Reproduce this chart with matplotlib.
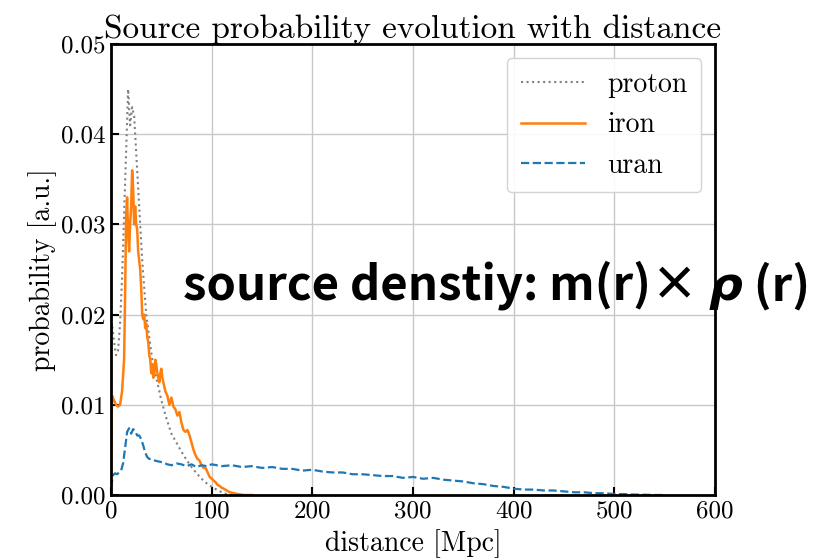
import matplotlib
matplotlib.use("Agg")
import matplotlib.pyplot as plt

# ---------------- data ----------------
proton_d = [0, 1, 3, 5, 7, 9, 11, 13, 15, 17, 19, 21, 23, 25, 27, 29, 31, 33, 35, 38,
            41, 44, 47, 50, 55, 60, 65, 70, 75, 80, 85, 90, 95, 100, 105, 110, 115, 120]
proton_p = [0.0175, 0.019, 0.017, 0.0155, 0.016, 0.019, 0.024, 0.031, 0.038, 0.045, 0.041,
            0.043, 0.042, 0.038, 0.034, 0.030, 0.026, 0.023, 0.020, 0.0175, 0.015, 0.0135,
            0.012, 0.0105, 0.0085, 0.0068, 0.0058, 0.0048, 0.0039, 0.0031, 0.0024, 0.0018,
            0.0013, 0.0009, 0.0006, 0.0003, 0.0001, 0.0]

iron_d = [0, 1, 3, 5, 7, 9, 11, 13, 14, 15, 16, 17, 18, 19, 20, 21, 22, 23, 24, 25, 26,
          27, 28, 29, 30, 31, 32, 33, 34, 35, 36, 37, 38, 39, 40, 41, 42, 43, 44, 45, 46,
          47, 48, 49, 50, 51, 52, 54, 56, 58, 60, 62, 64, 66, 68, 70, 72, 74, 76, 78, 80,
          82, 84, 86, 88, 90, 92, 94, 96, 98, 100, 102, 104, 106, 108, 110, 112, 115, 118,
          122, 126, 132, 140]
iron_p = [0.0025, 0.011, 0.0105, 0.0100, 0.0098, 0.0100, 0.0115, 0.015, 0.022, 0.031,
          0.033, 0.029, 0.027, 0.030, 0.032, 0.036, 0.034, 0.030, 0.032, 0.030, 0.0295,
          0.027, 0.026, 0.025, 0.023, 0.020, 0.0195, 0.020, 0.0185, 0.019, 0.0175, 0.017,
          0.0155, 0.015, 0.0135, 0.0145, 0.0130, 0.0135, 0.0150, 0.0145, 0.0135, 0.0130,
          0.0125, 0.0135, 0.0140, 0.0130, 0.0125, 0.0115, 0.0110, 0.0100, 0.0108, 0.0098,
          0.0095, 0.0088, 0.0092, 0.0080, 0.0072, 0.0070, 0.0072, 0.0066, 0.0058, 0.0050,
          0.0044, 0.0040, 0.0038, 0.0033, 0.0030, 0.0030, 0.0025, 0.0020, 0.0018, 0.0016,
          0.0014, 0.0011, 0.0010, 0.0008, 0.0007, 0.0005, 0.0003, 0.0002, 0.0001, 0.0, 0.0]

uran_d = [0, 2, 4, 6, 8, 10, 12, 14, 16, 18, 20, 22, 24, 26, 28, 30, 32, 34, 36, 38, 40,
          44, 48, 52, 56, 60, 65, 70, 75, 80, 85, 90, 95, 100, 110, 120, 130, 140, 150,
          160, 170, 180, 190, 200, 210, 220, 230, 240, 250, 260, 270, 280, 290, 300, 310,
          320, 330, 340, 350, 360, 370, 380, 390, 400, 410, 420, 430, 440, 450, 460, 470,
          480, 490, 500, 510, 520, 530, 540, 550]
uran_p = [0.0008, 0.0022, 0.0024, 0.0023, 0.0025, 0.0027, 0.0035, 0.0052, 0.0070, 0.0074,
          0.0068, 0.0073, 0.0071, 0.0066, 0.0066, 0.0062, 0.0055, 0.0047, 0.0042, 0.0040,
          0.0040, 0.0038, 0.0037, 0.0036, 0.0034, 0.0033, 0.0035, 0.0034, 0.0032, 0.0034,
          0.0031, 0.0033, 0.0032, 0.0034, 0.0032, 0.0033, 0.0031, 0.0032, 0.0030, 0.0031,
          0.0029, 0.0029, 0.0027, 0.0028, 0.0026, 0.0025, 0.0025, 0.0023, 0.0023, 0.0022,
          0.0021, 0.0021, 0.0019, 0.0020, 0.0018, 0.0019, 0.0017, 0.0016, 0.0015, 0.0013,
          0.0012, 0.0010, 0.0009, 0.0007, 0.0006, 0.0006, 0.0005, 0.0005, 0.0004, 0.0003,
          0.0003, 0.0002, 0.0002, 0.0001, 0.0001, 0.00005, 0.00003, 0.0, 0.0]

x_ticks = [0, 100, 200, 300, 400, 500, 600]
y_ticks = [0.00, 0.01, 0.02, 0.03, 0.04, 0.05]

# ---------------- style ----------------
plt.rcParams['font.family'] = 'serif'
plt.rcParams['font.serif'] = ['cmr10']
plt.rcParams['mathtext.fontset'] = 'cm'
plt.rcParams['axes.formatter.use_mathtext'] = True

fig = plt.figure(figsize=(8.18, 5.58), dpi=100)
ax = fig.add_axes([111 / 818, 1 - 495 / 558, (715 - 111) / 818, (495 - 44) / 558])

ax.plot(proton_d, proton_p, color='gray', ls=':', lw=1.5, label='proton')
ax.plot(iron_d, iron_p, color='#ff7f0e', ls='-', lw=1.8, label='iron')
ax.plot(uran_d, uran_p, color='#1f77b4', ls='--', lw=1.6, label='uran')

ax.set_xlim(0, 600)
ax.set_ylim(0, 0.05)
ax.set_xticks(x_ticks)
ax.set_yticks(y_ticks)
ax.set_yticklabels([f"{v:.2f}" for v in y_ticks])
ax.set_xticklabels([str(v) for v in x_ticks])
ax.grid(True, color='#c8c8c8', lw=1.0)
ax.set_axisbelow(True)
for s in ax.spines.values():
    s.set_linewidth(2.0)
    s.set_color('black')
ax.tick_params(direction='in', length=6, width=1.5, labelsize=18, pad=4)

ax.set_xlabel('distance [Mpc]', fontsize=20, labelpad=5)
ax.set_ylabel('probability [a.u.]', fontsize=20, labelpad=3)
ax.set_title('Source probability evolution with distance', fontsize=24, pad=2)

leg = ax.legend(loc='upper right', fontsize=20, handlelength=2.3, frameon=True,
                fancybox=True, edgecolor='#d0d0d0', framealpha=0.9,
                borderaxespad=0.5, labelspacing=0.5, handletextpad=0.8,
                borderpad=0.5)

# ---------------- annotation ----------------
yb = 1 - 300 / 558
fs = 34
t1 = fig.text(183 / 818, yb, 'source denstiy: m(r)× ', fontsize=fs, fontweight='bold',
              family=['Noto Sans CJK JP', 'DejaVu Sans'], va='baseline', ha='left')
fig.canvas.draw()
r = fig.canvas.get_renderer()
bb = t1.get_window_extent(r)
t2 = fig.text(bb.x1 / 818, yb, 'ρ', fontsize=fs, fontweight='bold', style='italic',
              family=['DejaVu Sans'], va='baseline', ha='left')
bb2 = t2.get_window_extent(r)
fig.text(bb2.x1 / 818, yb, ' (r)', fontsize=fs, fontweight='bold',
         family=['Noto Sans CJK JP', 'DejaVu Sans'], va='baseline', ha='left')

fig.savefig('out.png', dpi=100)
